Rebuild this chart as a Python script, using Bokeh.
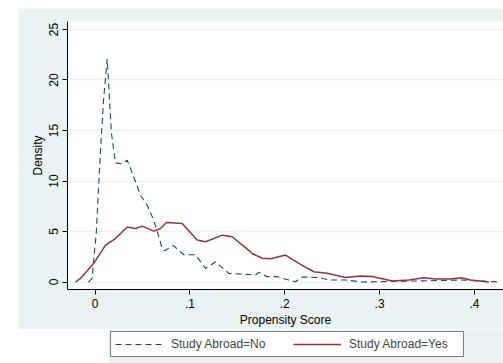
from bokeh.plotting import figure
from bokeh.models import Range1d, FixedTicker, Legend, LegendItem, Spacer
from bokeh.layouts import row, column
from bokeh.embed import file_html
from bokeh.resources import INLINE

# Study Abroad = No (dashed)
no_x = [-0.0071, -0.0032, -0.0015, 0.0011, 0.0038, 0.0056, 0.0088, 0.0127, 0.0151,
        0.0172, 0.0214, 0.0267, 0.0338, 0.0407, 0.0478, 0.0549, 0.0618, 0.0671,
        0.0707, 0.0730, 0.0826, 0.0935, 0.1058, 0.1164, 0.1270, 0.1409, 0.1585,
        0.1691, 0.1726, 0.1814, 0.1920, 0.2042, 0.2113, 0.2184, 0.2359, 0.2464,
        0.2640, 0.2816, 0.3062, 0.3344, 0.3642, 0.3871, 0.4082, 0.4257]
no_y = [0.0, 0.36, 2.2, 4.8, 9.8, 13.0, 18.0, 22.1, 18.0,
        14.7, 11.8, 11.7, 12.05, 10.4, 8.6, 7.6, 6.1, 4.5,
        3.3, 3.1, 3.6, 2.7, 2.7, 1.35, 2.0, 0.86, 0.76,
        0.7, 0.96, 0.53, 0.53, 0.2, 0.03, 0.5, 0.45, 0.2,
        0.2, 0.0, 0.05, 0.1, 0.15, 0.2, 0.1, 0.0]

# Study Abroad = Yes (solid)
yes_x = [-0.0208, -0.0155, -0.0015, 0.0109, 0.0161, 0.0214, 0.0338, 0.0425, 0.0496,
         0.0618, 0.0689, 0.0752, 0.0918, 0.1076, 0.1164, 0.1340, 0.1445, 0.1585,
         0.1660, 0.1762, 0.1849, 0.2007, 0.2166, 0.2306, 0.2447, 0.2640, 0.2799,
         0.2922, 0.3133, 0.3308, 0.3466, 0.3590, 0.3748, 0.3861, 0.3959, 0.4152]
yes_y = [0.0, 0.36, 1.85, 3.65, 3.98, 4.3, 5.45, 5.3, 5.53,
         5.04, 5.3, 5.9, 5.8, 4.15, 3.98, 4.64, 4.48, 3.4,
         2.8, 2.35, 2.3, 2.67, 1.75, 1.02, 0.86, 0.45, 0.6,
         0.55, 0.1, 0.2, 0.43, 0.3, 0.3, 0.43, 0.2, 0.0]

x_ticks = [0, 0.1, 0.2, 0.3, 0.4]
x_tick_labels = ["0", ".1", ".2", ".3", ".4"]
y_ticks = [0, 5, 10, 15, 20, 25]
series_labels = ["Study Abroad=No", "Study Abroad=Yes"]

BG = "#EAF2F3"
FONT = "Liberation Sans"
NAVY = "#1a476f"
MAROON = "#90353b"

p = figure(width=485, height=321, output_backend="svg", toolbar_location=None,
           x_range=Range1d(-0.0292, 0.4307), y_range=Range1d(-0.74, 25.79),
           background_fill_color="white", border_fill_color=BG,
           min_border_left=49, min_border_right=0, min_border_top=13,
           min_border_bottom=40)
p.outline_line_color = None

p.line(no_x, no_y, line_color=NAVY, line_dash="6 4", line_width=1.1)
p.line(yes_x, yes_y, line_color=MAROON, line_width=1.5)

p.xaxis.ticker = FixedTicker(ticks=x_ticks)
p.xaxis.major_label_overrides = {t: l for t, l in zip(x_ticks, x_tick_labels)}
p.yaxis.ticker = FixedTicker(ticks=y_ticks)
p.yaxis.major_label_orientation = "vertical"
p.xaxis.axis_label = "Propensity Score"
p.yaxis.axis_label = "Density"

for ax in (p.xaxis, p.yaxis):
    ax.axis_line_color = "black"
    ax.axis_line_width = 1
    ax.major_tick_line_color = "black"
    ax.major_tick_out = 5
    ax.major_tick_in = 0
    ax.minor_tick_line_color = None
    ax.major_label_text_font = FONT
    ax.major_label_text_font_size = "12px"
    ax.major_label_text_color = "black"
    ax.axis_label_text_font = FONT
    ax.axis_label_text_font_size = "12px"
    ax.axis_label_text_font_style = "normal"
    ax.axis_label_text_color = "black"
    ax.major_label_standoff = 4
    ax.axis_label_standoff = 2

p.xgrid.grid_line_color = None
p.ygrid.ticker = FixedTicker(ticks=y_ticks)
p.ygrid.grid_line_color = BG
p.ygrid.grid_line_width = 1.5

# legend strip below the chart (lines drawn outside its visible range)
lg = figure(width=395, height=34, output_backend="svg", toolbar_location=None,
            x_axis_type=None, y_axis_type=None,
            x_range=Range1d(10, 11), y_range=Range1d(10, 11),
            background_fill_color=BG, border_fill_color=BG,
            min_border_left=0, min_border_right=0, min_border_top=0,
            min_border_bottom=0)
lg.outline_line_color = None
lg.xgrid.visible = False
lg.ygrid.visible = False
l_no = lg.line(no_x, no_y, line_color=NAVY, line_dash="6 4", line_width=1.1)
l_yes = lg.line(yes_x, yes_y, line_color=MAROON, line_width=1.5)

legend = Legend(items=[LegendItem(label=series_labels[0], renderers=[l_no]),
                       LegendItem(label=series_labels[1], renderers=[l_yes])],
                orientation="horizontal", location="top_left",
                border_line_color="black", border_line_width=1,
                background_fill_color="white", background_fill_alpha=1,
                padding=4, margin=2, spacing=12, glyph_width=48,
                glyph_height=16, label_height=16, label_width=110,
                label_standoff=8,
                label_text_font=FONT, label_text_font_size="12px")
lg.add_layout(legend)

layout = column(Spacer(width=503, height=8),
                row(Spacer(width=18, height=321), p),
                row(Spacer(width=108, height=34), lg,
                    Spacer(width=503 - 108 - 395, height=34)))
open("out.html", "w").write(file_html(layout, INLINE))
